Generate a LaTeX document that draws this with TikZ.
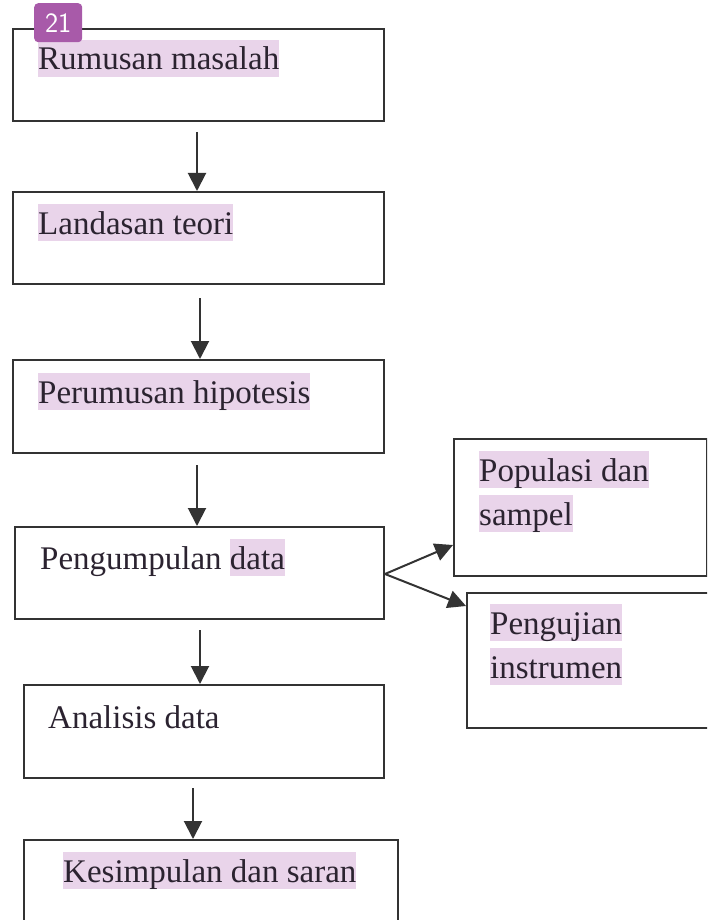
\documentclass[tikz,border=0pt]{standalone}
\usepackage{fontspec}
\setmainfont{Liberation Serif}
\usetikzlibrary{arrows.meta,positioning}

\definecolor{hlpink}{HTML}{E9D4EA}
\definecolor{badgepurple}{HTML}{A85AA9}
\definecolor{boxgray}{HTML}{333333}
\definecolor{inkgray}{HTML}{2B2330}

\newcommand{\hilite}[1]{{\setlength{\fboxsep}{0pt}\colorbox{hlpink}{\rule[-7pt]{0pt}{37pt}#1}}}

\begin{document}
\begin{tikzpicture}[%
    x=1pt, y=-1pt,
    >={Triangle[length=18pt,width=18pt]},
    box/.style={draw=boxgray, line width=2.2pt, anchor=north west, inner sep=0pt},
    lbl/.style={anchor=base west, inner sep=0pt, text=inkgray,
                font=\fontsize{33}{40}\selectfont},
    flow/.style={->, draw=boxgray, line width=2pt}
    ]
    \useasboundingbox (0,0) rectangle (707,920);
    \clip (0,0) rectangle (707,920);

    % main column
    \node[box, minimum width=371pt, minimum height=92pt] (rumusan)   at (12,28)  {};
    \node[box, minimum width=371pt, minimum height=92pt] (landasan)  at (12,191) {};
    \node[box, minimum width=371pt, minimum height=93pt] (hipotesis) at (12,359) {};
    \node[box, minimum width=369pt, minimum height=92pt] (kumpul)    at (14,526) {};
    \node[box, minimum width=360pt, minimum height=93pt] (analisis)  at (23,684) {};
    \node[box, minimum width=374pt, minimum height=120pt] (simpulan) at (23,839) {};

    % side boxes
    \node[box, minimum width=253pt, minimum height=137pt] (populasi) at (453,438) {};
    \node[box, minimum width=270pt, minimum height=135pt] (uji)      at (466,592) {};

    % texts
    \node[lbl] (t-rumusan)   at (38,70)  {\hilite{Rumusan masalah}};
    \node[lbl] (t-landasan)  at (38,234) {\hilite{Landasan teori}};
    \node[lbl] (t-hipotesis) at (38,403) {\hilite{Perumusan hipotesis}};
    \node[lbl] (t-kumpul)    at (40,569) {Pengumpulan \hilite{data}};
    \node[lbl] (t-analisis)  at (48,728) {Analisis data};
    \node[lbl] (t-simpulan)  at (63,882) {\hilite{Kesimpulan dan saran}};
    \node[lbl] (t-populasi1) at (479,481) {\hilite{Populasi dan}};
    \node[lbl] (t-populasi2) at (479,525) {\hilite{sampel}};
    \node[lbl] (t-uji1)      at (490,634) {\hilite{Pengujian}};
    \node[lbl] (t-uji2)      at (490,678) {\hilite{instrumen}};

    % arrows between steps
    \coordinate (a1) at (197,132);
    \coordinate (a2) at (200,298);
    \coordinate (a3) at (197,465);
    \coordinate (a4) at (200,630);
    \coordinate (a5) at (193,788);
    \draw[flow] (a1) -- (a1 |- landasan.north);
    \draw[flow] (a2) -- (a2 |- hipotesis.north);
    \draw[flow] (a3) -- (a3 |- kumpul.north);
    \draw[flow] (a4) -- (a4 |- analisis.north);
    \draw[flow] (a5) -- (a5 |- simpulan.north);

    % fork to the side boxes
    \coordinate (fork) at (385,574);
    \draw[flow] (fork) -- (populasi.west |- 0,545);
    \draw[flow] (fork) -- (uji.west |- 0,606);

    % page badge
    \node[fill=badgepurple, rounded corners=4pt, minimum width=48pt, minimum height=39pt,
          anchor=north west, inner sep=0pt, text=white,
          font=\fontsize{28}{28}\sffamily] (badge) at (34,3) {21};
\end{tikzpicture}
\end{document}
